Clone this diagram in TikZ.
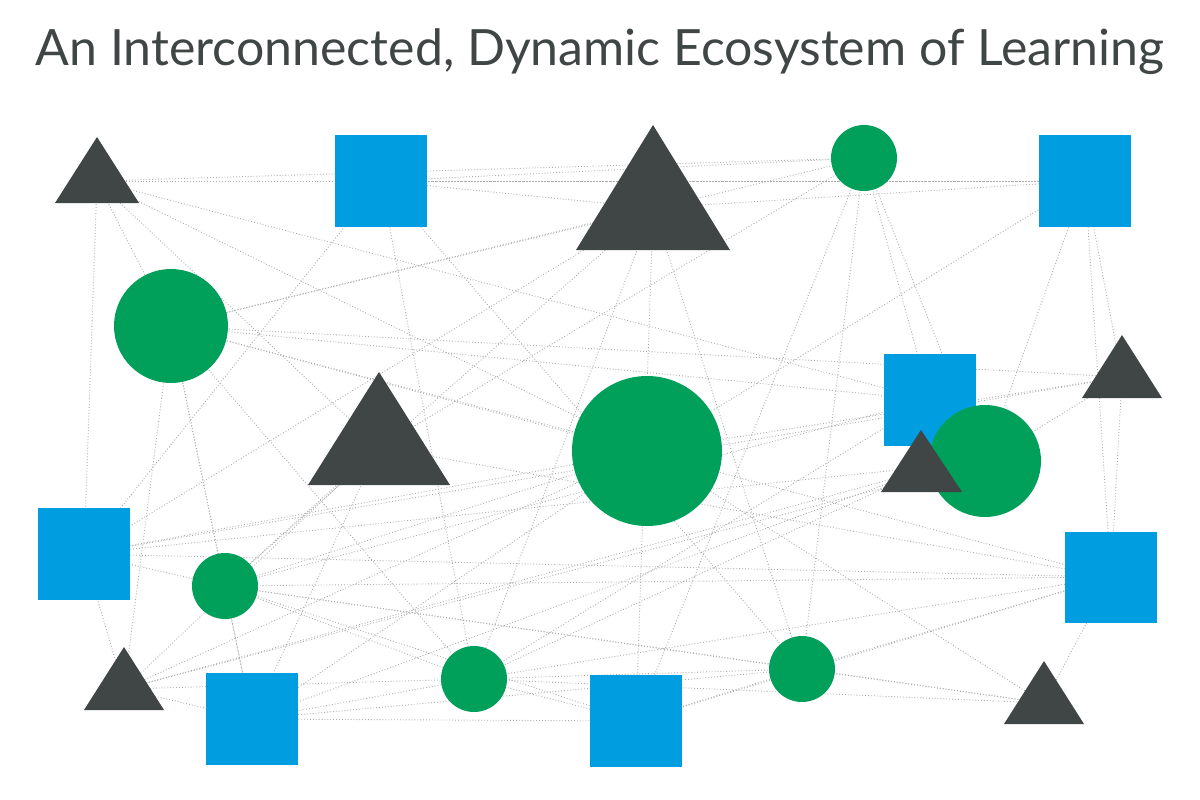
\documentclass[tikz,border=0pt]{standalone}
\usepackage{fontspec}
\setmainfont{Lato}
\definecolor{dk}{HTML}{404545}
\definecolor{bl}{HTML}{009EE0}
\definecolor{gr}{HTML}{00A05A}
\begin{document}
\begin{tikzpicture}[x=1pt,y=-1pt,
 edge/.style={draw=gray!65,dotted,line width=0.9pt},
 tri/.style={fill=dk},sq/.style={fill=bl},ci/.style={fill=gr}]
\useasboundingbox (0,0) rectangle (1200,800);
\node[text=dk,font=\fontsize{50}{60}\selectfont,anchor=center] (title) at (600,52) {An Interconnected, Dynamic Ecosystem of Learning};
% coordinates
\coordinate (t1) at (97,181); \coordinate (t2) at (653,208); \coordinate (t3) at (1122,377);
\coordinate (t4) at (379,447); \coordinate (t5) at (921,471); \coordinate (t6) at (124,689);
\coordinate (t7) at (1044,703);
\coordinate (s1) at (381,181); \coordinate (s2) at (1085,181); \coordinate (s3) at (930,400);
\coordinate (s4) at (84,554); \coordinate (s5) at (1111,577); \coordinate (s6) at (252,719);
\coordinate (s7) at (636,721);
\coordinate (c1) at (864,158); \coordinate (c2) at (171,326); \coordinate (c3) at (647,451);
\coordinate (c4) at (985,461); \coordinate (c5) at (225,586); \coordinate (c6) at (474,679);
\coordinate (c7) at (802,669);
\foreach \a/\b in {t1/s1,t1/s2,t1/c2,t1/s4,t1/t4,t1/c3,t1/c1,t1/s3,
 t2/c2,t2/s1,t2/s7,t2/c5,t2/c6,t2/s4,t2/c7,
 c1/c2,c1/s1,c1/t4,c1/s3,c1/c4,c1/s7,c1/c7,
 s2/s1,s2/t2,s2/c3,s2/t3,s2/c4,s2/s5,
 c2/s3,c2/t3,c2/c5,c2/t6,c2/s6,c2/c6,c2/s5,c2/c3,
 s1/c6,s1/c7,s1/s4,
 t4/c5,t4/s6,t4/s5,t4/t6,
 t3/c3,t3/s4,t3/c4,t3/s5,
 c3/s4,c3/s6,c3/t7,c3/t6,c3/c5,
 s3/c5,s3/c6,c4/s4,c4/t6,t5/c6,t5/s6,
 s4/c5,s4/s5,s4/t6,
 c5/s5,c5/c6,c5/t7,c5/s7,c5/s6,c5/c7,
 t6/s6,t6/c6,t6/t5,s6/c6,s6/s7,s6/c7,
 c6/s7,c6/c7,c6/s5,c6/t7,s7/c7,s7/s5,c7/t7,c7/s5,t7/s5}
 \draw[edge] (\a) -- (\b);
% shapes
\fill[tri] (97,137) -- (139,203) -- (55,203) -- cycle;
\fill[tri] (653,125) -- (730,250) -- (576,250) -- cycle;
\fill[tri] (1122,335) -- (1162,398) -- (1082,398) -- cycle;
\fill[tri] (379,372) -- (450,485) -- (308,485) -- cycle;
\fill[tri] (124,647) -- (164,710) -- (84,710) -- cycle;
\fill[tri] (1044,661) -- (1084,724) -- (1004,724) -- cycle;
\fill[sq] (335,135) rectangle (427,227);
\fill[sq] (1039,135) rectangle (1131,227);
\fill[sq] (884,354) rectangle (976,446);
\fill[sq] (38,508) rectangle (130,600);
\fill[sq] (1065,532) rectangle (1157,623);
\fill[sq] (206,673) rectangle (298,765);
\fill[sq] (590,675) rectangle (682,767);
\fill[ci] (c1) circle (33); \fill[ci] (c2) circle (57); \fill[ci] (c3) circle (75);
\fill[ci] (c4) circle (56); \fill[ci] (c5) circle (33); \fill[ci] (c6) circle (33);
\fill[ci] (c7) circle (33);
\fill[tri] (921,430) -- (962,492) -- (881,492) -- cycle;
\end{tikzpicture}
\end{document}
